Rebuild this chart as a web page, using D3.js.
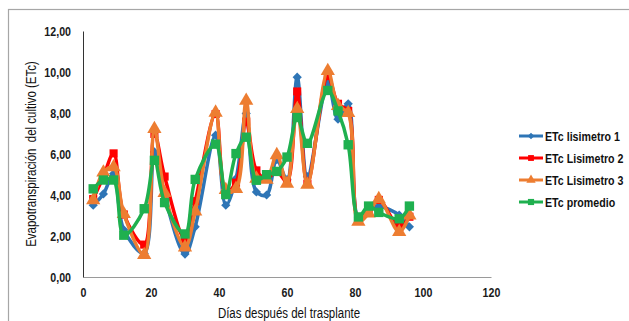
<!DOCTYPE html>
<html><head><meta charset="utf-8">
<script src="https://cdn.jsdelivr.net/npm/d3@7"></script>
<style>
html,body{margin:0;padding:0;background:#fff;}
svg{display:block;}
.tick text{font-family:"Liberation Sans",Arial,sans-serif;font-weight:bold;font-size:13px;fill:#1a1a1a;}
</style></head>
<body><svg id="c" width="629" height="321"></svg>
<script>
const days = [3,6,9,12,18,21,24,30,33,39,42,45,48,51,54,57,60,63,66,72,75,78,81,84,87,93,96];
const lis1 = [3.50,4.05,5.04,2.30,1.15,6.10,3.95,1.12,2.45,6.92,3.50,4.80,7.98,4.15,4.00,5.72,4.75,9.75,4.90,9.45,7.70,8.45,2.90,3.30,3.45,3.02,2.45];
const lis2 = [3.80,4.90,6.03,3.05,1.58,6.98,4.90,1.85,3.70,7.95,4.15,4.60,7.58,5.20,4.80,5.15,4.65,9.05,4.55,9.80,8.45,8.10,2.80,3.20,3.76,2.45,2.94];
const lis3 = [3.75,5.10,5.36,3.08,1.08,7.22,4.10,1.45,3.20,8.02,4.25,4.30,8.60,4.80,4.75,5.95,4.55,8.20,4.50,10.05,8.35,8.00,2.70,3.10,3.80,2.20,3.00];
const promedio = [4.30,4.73,4.73,2.04,3.33,5.69,3.63,2.10,4.76,6.48,4.02,6.02,6.82,4.72,4.99,5.15,5.85,7.78,6.52,9.10,8.10,6.45,2.93,3.46,3.15,2.84,3.46];
const seriesNames = ["ETc lisimetro 1","ETc Lisimetro 2","ETc Lisimetro 3","ETc promedio"];
const xTicks = [0,20,40,60,80,100,120];
const yTicks = [0,2,4,6,8,10,12];
const xTitle = "Días después del trasplante";
const yTitle = "Evapotranspiración\u00a0 del cultivo (ETc)";

const seriesValues = [lis1, lis2, lis3, promedio];
const colors = ["#2E75B6","#FF0000","#ED7D31","#1FB04F"];
const shapes = [d3.symbolDiamond2, d3.symbolSquare, d3.symbolTriangle, d3.symbolSquare];
const sizes = [54, 66, 88, 88];
const legSizes = [28, 34, 38, 38];
const NX = 0.82; // horizontal condensing, mimics a narrow face

const svg = d3.select("#c");
const font = '"Liberation Sans",Arial,sans-serif';

svg.append("rect").attr("x",8.5).attr("y",9.5).attr("width",700).attr("height",400)
  .attr("fill","none").attr("stroke","#a6a6a6").attr("stroke-width",1.2);

const x = d3.scaleLinear().domain([0,120]).range([83,491]);
const y = d3.scaleLinear().domain([0,12]).range([277,31]);

const fmt = d => d3.format(".2f")(d).replace(".",",");

const xa = svg.append("g").attr("transform","translate(0,277)")
  .call(d3.axisBottom(x).tickValues(xTicks).tickSize(0).tickPadding(11).tickFormat(d3.format("d")));
xa.select(".domain").attr("stroke","#9a9a9a").attr("stroke-width",1);
xa.selectAll(".tick text").attr("transform",`scale(${NX},1)`);

const ya = svg.append("g").attr("transform","translate(83,0)")
  .call(d3.axisLeft(y).tickValues(yTicks).tickSize(0).tickPadding(12).tickFormat(fmt));
ya.select(".domain").attr("stroke","#333").attr("stroke-width",1);
ya.selectAll(".tick text").attr("x",-12/NX).attr("transform",`scale(${NX},1)`);

function ntext(px,py,rot,anchor,size,weight,str){
  return svg.append("text")
    .attr("transform",`translate(${px},${py}) rotate(${rot}) scale(${NX},1)`)
    .attr("text-anchor",anchor).attr("font-family",font).attr("font-size",size)
    .attr("font-weight",weight).attr("fill","#111").text(str);
}
ntext(289,318,0,"middle",14,"normal",xTitle);
ntext(36,154,-90,"middle",14,"normal",yTitle);

const line = d3.line().x((d,i)=>x(days[i])).y(d=>y(d)).curve(d3.curveCatmullRom.alpha(0.5));

seriesValues.forEach((vals,k)=>{
  const g = svg.append("g");
  g.append("path").datum(vals).attr("d",line).attr("fill","none")
    .attr("stroke",colors[k]).attr("stroke-width",3.5).attr("stroke-linejoin","round");
  g.selectAll("path.m").data(vals).enter().append("path").attr("class","m")
    .attr("transform",(d,i)=>`translate(${x(days[i])},${y(d)})`)
    .attr("d",d3.symbol().type(shapes[k]).size(sizes[k])).attr("fill",colors[k]);
});

const legY = [136,158,180,202];
seriesNames.forEach((n,k)=>{
  const g = svg.append("g").attr("transform",`translate(0,${legY[k]})`);
  g.append("line").attr("x1",519).attr("x2",543).attr("y1",0).attr("y2",0)
    .attr("stroke",colors[k]).attr("stroke-width",3);
  g.append("path").attr("transform","translate(531,0)")
    .attr("d",d3.symbol().type(shapes[k]).size(legSizes[k])).attr("fill",colors[k]);
  ntext(545,legY[k]+4.5,0,"start",13,"bold",n);
});
</script></body></html>
